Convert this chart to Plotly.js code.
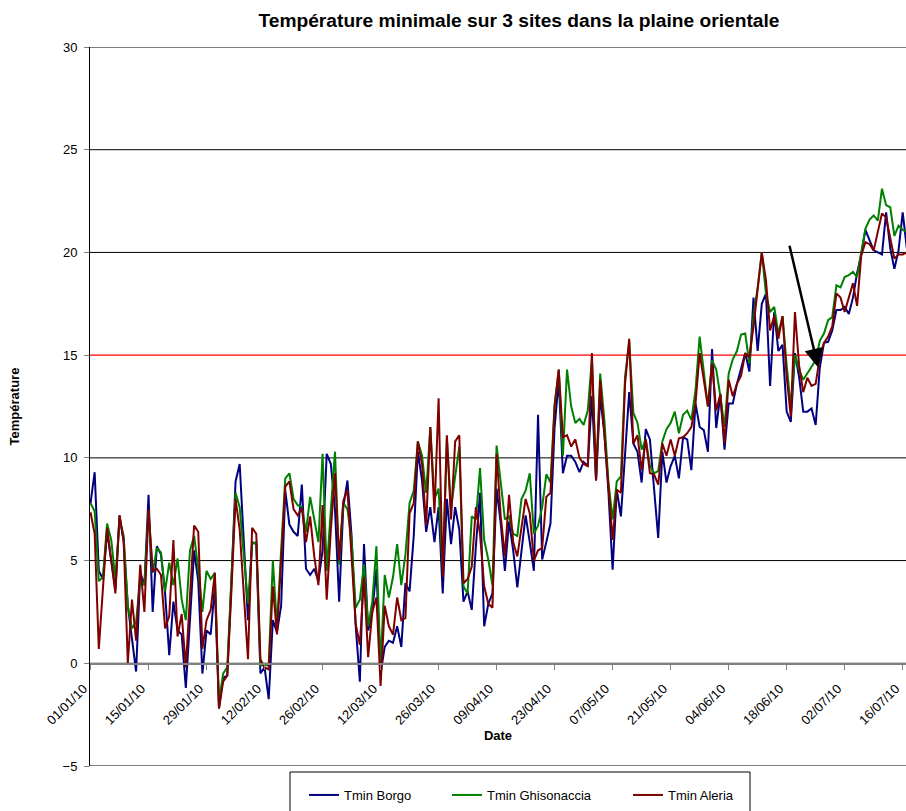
<!DOCTYPE html>
<html>
<head>
<meta charset="utf-8">
<script src="https://cdn.plot.ly/plotly-3.0.1.min.js"></script>
<style>
  html, body { margin: 0; padding: 0; background: #ffffff; }
  #chart { width: 906px; height: 811px; }
</style>
</head>
<body>
<div id="chart"></div>
<script>
// ---- Data (daily minimum temperatures, 01/01/2010 onward) ----
const startDate = '2010-01-01';

const tminBorgo = [
  7.8, 9.3, 4.5, 4.1, 6.4, 5.0, 3.6, 7.2, 5.9, 2.8,
  1.3, -0.4, 4.4, 3.8, 8.2, 2.5, 5.7, 5.3, 3.4, 0.4,
  3.0, 1.6, 1.4, -1.2, 2.1, 5.5, 4.0, -0.5, 1.6, 1.4,
  3.75, -2.2, -0.7, -0.6, 4.0, 8.85, 9.7, 6.0, 2.1, 5.9,
  5.8, -0.5, -0.2, -1.75, 2.1, 1.5, 2.8, 8.4, 6.75, 6.4,
  6.2, 8.7, 4.6, 4.3, 4.6, 4.0, 5.5, 10.2, 9.7, 7.5,
  3.0, 7.6, 8.9, 6.2, 1.8, -0.9, 5.8, 1.6, 2.5, 4.6,
  -0.5, 0.8, 1.1, 1.0, 1.8, 0.8, 3.9, 3.5, 6.2, 10.3,
  8.9, 6.4, 7.6, 5.9, 7.6, 3.4, 8.0, 5.8, 7.6, 6.5,
  3.0, 3.5, 2.6, 5.7, 8.3, 1.8, 2.9, 3.4, 8.5, 6.8,
  4.5, 6.9, 5.5, 3.7, 5.5, 7.2, 5.9, 4.5, 12.1, 5.05,
  5.9, 6.8, 11.5, 13.8, 9.25, 10.1, 10.1, 9.8, 9.3, 9.8,
  9.6, 13.0, 8.9, 13.0, 11.2, 8.3, 4.55, 8.45, 7.15, 10.1,
  13.2, 10.7, 10.3, 8.8, 11.4, 10.9, 8.45, 6.1, 10.3, 8.8,
  9.6, 10.1, 9.0, 11.0, 10.9, 9.4, 12.65, 11.5, 11.35, 10.3,
  15.3, 11.45, 13.1, 10.4, 12.65, 12.65, 13.6, 14.3, 15.1, 14.2,
  17.8, 15.2, 17.5, 18.0, 13.5, 17.1, 15.2, 15.5, 12.25, 11.75,
  15.1, 13.95, 12.25, 12.25, 12.4, 11.6, 14.4, 15.6, 15.65, 16.2,
  17.2, 17.2, 17.35, 17.0, 17.8, 19.0, 19.9, 21.1, 20.6, 20.1,
  20.0, 19.9, 21.95, 20.2, 19.2, 20.1, 21.95, 20.2
];

const tminGhisonaccia = [
  7.8, 7.4, 4.0, 4.2, 6.8, 6.0, 4.1, 7.0, 6.2, 2.8,
  1.7, 2.0, 4.1, 3.8, 7.4, 4.4, 5.6, 5.4, 3.5, 4.9,
  3.8, 5.1, 3.1, 2.1, 5.5, 6.2, 4.6, 2.5, 4.5, 4.1,
  4.4, -1.9, -0.5, -0.2, 4.1, 8.3, 7.6, 5.2, 2.9, 5.8,
  5.9, -0.1, -0.1, -0.1, 5.0, 1.8, 5.5, 9.0, 9.25, 8.0,
  7.7, 7.6, 6.4, 8.1, 7.0, 5.9, 10.2, 4.5, 7.5, 10.3,
  4.8, 7.8, 7.5, 6.0, 2.7, 3.1, 4.8, 1.8, 3.0, 5.7,
  -0.1, 4.3, 3.2, 4.2, 5.8, 3.8, 5.3, 7.8, 8.4, 10.8,
  10.1, 8.3, 11.5, 8.0, 8.5, 4.5, 10.95, 7.5, 9.1, 10.55,
  3.75, 3.4, 7.15, 7.0, 9.5, 6.0, 5.05, 3.8, 10.6, 8.9,
  7.0, 7.15, 6.3, 6.2, 8.0, 8.4, 9.25, 6.3, 6.7, 7.6,
  9.2, 8.8, 12.6, 14.3, 10.1, 14.3, 12.5, 11.7, 11.9, 11.6,
  12.3, 14.8, 9.0, 14.1, 11.85, 8.8, 7.0, 8.85, 9.1, 13.95,
  15.65, 12.2, 11.7, 10.4, 10.9, 9.6, 9.25, 9.35, 10.8, 11.4,
  11.7, 12.25, 11.2, 12.1, 12.3, 11.85, 13.3, 15.9, 14.1, 12.5,
  14.75, 14.3, 13.0, 11.5, 14.1, 14.8, 15.2, 16.0, 16.05, 14.6,
  16.9, 18.3, 20.0, 18.0, 17.1, 17.35, 16.05, 16.9, 14.5, 12.5,
  15.0, 14.3, 13.8, 14.1, 14.4, 14.75, 15.7, 16.05, 16.7, 16.85,
  18.4, 18.3, 18.8, 18.9, 19.05, 18.8, 20.0, 21.15, 21.6, 21.8,
  21.55, 23.1, 22.3, 22.2, 20.8, 21.3, 21.1, 21.0
];

const tminAleria = [
  7.35, 6.3, 0.7, 3.8, 6.6, 5.0, 3.4, 7.2, 6.0, 0.0,
  3.1, 1.1, 4.8, 2.5, 7.5, 4.5, 4.6, 4.3, 1.7, 2.3,
  6.0, 1.3, 2.4, -0.2, 3.2, 6.7, 6.4, 0.7, 2.1, 2.6,
  4.4, -2.2, -0.9, -0.6, 3.5, 8.0, 6.5, 3.5, 0.2, 6.6,
  6.3, 0.2, -0.2, -0.3, 3.75, 1.4, 5.0, 8.6, 8.85, 7.5,
  7.2, 7.55, 5.9, 7.15, 5.2, 3.8, 7.7, 3.1, 6.5, 9.25,
  5.0, 7.9, 8.45, 5.0, 1.9, 0.9, 4.2, 0.3, 2.5, 3.2,
  -1.1, 2.8, 1.8, 1.4, 3.2, 2.1, 2.2, 7.3, 7.8, 10.8,
  9.7, 6.7, 11.5, 7.3, 12.9, 4.2, 11.1, 7.0, 10.8, 11.1,
  3.9, 4.1, 4.7, 7.6, 6.3, 3.75, 2.9, 2.7, 10.2, 7.15,
  5.2, 8.2, 5.9, 5.2, 6.5, 8.0, 7.3, 5.0, 5.5, 5.6,
  8.1, 8.3, 12.5, 14.3, 11.0, 11.1, 10.55, 10.9, 10.0, 9.7,
  9.6, 15.1, 8.9, 13.8, 11.2, 8.6, 6.0, 8.45, 8.3, 13.6,
  15.8, 10.7, 11.1, 9.4, 10.9, 9.25, 9.2, 8.7, 10.7, 10.1,
  10.9, 10.1, 10.95, 11.0, 11.2, 11.5, 12.65, 15.1, 13.8, 12.5,
  14.6, 12.3, 13.1, 10.7, 13.8, 13.0, 13.6, 14.0, 15.1, 14.9,
  16.4, 18.2, 20.0, 18.65, 16.2, 16.9, 15.8, 16.9, 13.95, 12.0,
  17.1, 14.5, 13.2, 13.9, 13.5, 13.6, 14.9, 15.6, 15.9, 16.4,
  18.0, 17.8, 17.1, 17.8, 18.5, 17.4, 19.85, 20.5, 20.4, 20.1,
  21.0, 21.9, 21.7, 20.7, 19.7, 19.9, 19.9, 20.0
];

const seriesNames = ['Tmin Borgo', 'Tmin Ghisonaccia', 'Tmin Aleria'];
const seriesColors = ['#000080', '#008000', '#800000'];
const titleText = 'Température minimale sur 3 sites dans la plaine orientale';
const xTitle = 'Date';
const yTitle = 'Température';
const thresholdValue = 15;
const gridValues = [-5, 0, 5, 10, 20, 25, 30];

// dates (one per day)
function buildDates(start, n) {
  const out = [];
  const d0 = new Date(start + 'T00:00:00Z');
  for (let i = 0; i < n; i++) {
    const d = new Date(d0.getTime() + i * 86400000);
    out.push(d.toISOString().slice(0, 10));
  }
  return out;
}
const dates = buildDates(startDate, tminBorgo.length);

const legendIds = ['legend', 'legend2', 'legend3'];
const allSeries = [tminBorgo, tminGhisonaccia, tminAleria];
const traces = allSeries.map((vals, i) => ({
  type: 'scatter',
  mode: 'lines',
  x: dates,
  y: vals,
  name: seriesNames[i],
  legend: legendIds[i],
  line: { color: seriesColors[i], width: 2 },
  hoverinfo: 'x+y+name'
}));

const FONT = '"Liberation Sans", Arial, sans-serif';

// helpers converting pixel positions of the 906x811 picture to paper fractions
const PL = 90, PW = 816, PT = 47, PH = 719;
const px = v => (v - PL) / PW;
const py = v => (PT + PH - v) / PH;

function legendAt(xPix) {
  return {
    orientation: 'h',
    x: px(xPix), xanchor: 'left',
    y: py(795), yanchor: 'middle',
    bgcolor: 'rgba(0,0,0,0)',
    borderwidth: 0,
    font: { family: FONT, size: 13, color: '#000000' }
  };
}

// horizontal gridlines (the 15 line is drawn separately in red)
const gridShapes = gridValues.map(v => ({
  type: 'line', xref: 'paper', x0: 0, x1: 1, yref: 'y', y0: v, y1: v,
  line: { color: '#000000', width: 1 }, layer: 'below'
}));

const layout = {
  width: 906,
  height: 811,
  margin: { l: 90, r: 0, t: 47, b: 45, pad: 0 },
  paper_bgcolor: '#ffffff',
  plot_bgcolor: '#ffffff',
  font: { family: FONT, size: 13, color: '#000000' },
  showlegend: true,
  title: {
    text: '<b>' + titleText + '</b>',
    font: { family: FONT, size: 19.2, color: '#000000' },
    xref: 'paper', x: px(519), xanchor: 'center',
    yref: 'container', y: 1 - 20 / 811, yanchor: 'middle'
  },
  xaxis: {
    type: 'date',
    range: ['2009-12-31 21:00', '2010-07-16 19:12'],
    tick0: '2010-01-01',
    dtick: 14 * 86400000,
    tickformat: '%d/%m/%y',
    tickangle: -45,
    tickfont: { family: FONT, size: 13, color: '#000000' },
    ticklabeloverflow: 'allow',
    ticklabelshift: -7,
    ticklabelstandoff: 6,
    showgrid: false,
    zeroline: false,
    anchor: 'free',
    position: 102 / 719,
    showline: true,
    linecolor: '#808080',
    linewidth: 2,
    ticks: 'outside',
    ticklen: 5,
    tickcolor: '#808080',
    tickwidth: 1,
    title: { text: '<b>' + xTitle + '</b>', font: { family: FONT, size: 13, color: '#000000' }, standoff: 2 }
  },
  yaxis: {
    range: [-5, 30],
    dtick: 5,
    tick0: 0,
    showgrid: false,
    zeroline: false,
    showline: true,
    linecolor: '#000000',
    linewidth: 1,
    ticks: 'outside',
    ticklen: 5,
    tickcolor: '#808080',
    ticklabelstandoff: 4,
    tickfont: { family: FONT, size: 13, color: '#000000' },
    title: { text: '<b>' + yTitle + '</b>', font: { family: FONT, size: 13, color: '#000000' }, standoff: 40 }
  },
  legend: legendAt(304),
  legend2: legendAt(447),
  legend3: legendAt(628),
  shapes: gridShapes.concat([
    { type: 'line', xref: 'paper', x0: 0, x1: 1, yref: 'y', y0: thresholdValue, y1: thresholdValue,
      line: { color: '#ff0000', width: 1.3 }, layer: 'below' },
    { type: 'rect', xref: 'paper', x0: px(290), x1: px(750),
      yref: 'paper', y0: py(772), y1: py(840),
      line: { color: '#000000', width: 1 }, fillcolor: '#ffffff', layer: 'above' }
  ]),
  annotations: [
    { xref: 'x', yref: 'y', axref: 'x', ayref: 'y',
      x: '2010-06-25 14:24', y: 14.4,
      ax: '2010-06-18 14:24', ay: 20.4,
      text: '', showarrow: true, arrowhead: 2, arrowsize: 1.5, arrowwidth: 2.5,
      arrowcolor: '#000000', standoff: 0 }
  ]
};

Plotly.newPlot('chart', traces, layout, { displayModeBar: false, staticPlot: true });
</script>
</body>
</html>
